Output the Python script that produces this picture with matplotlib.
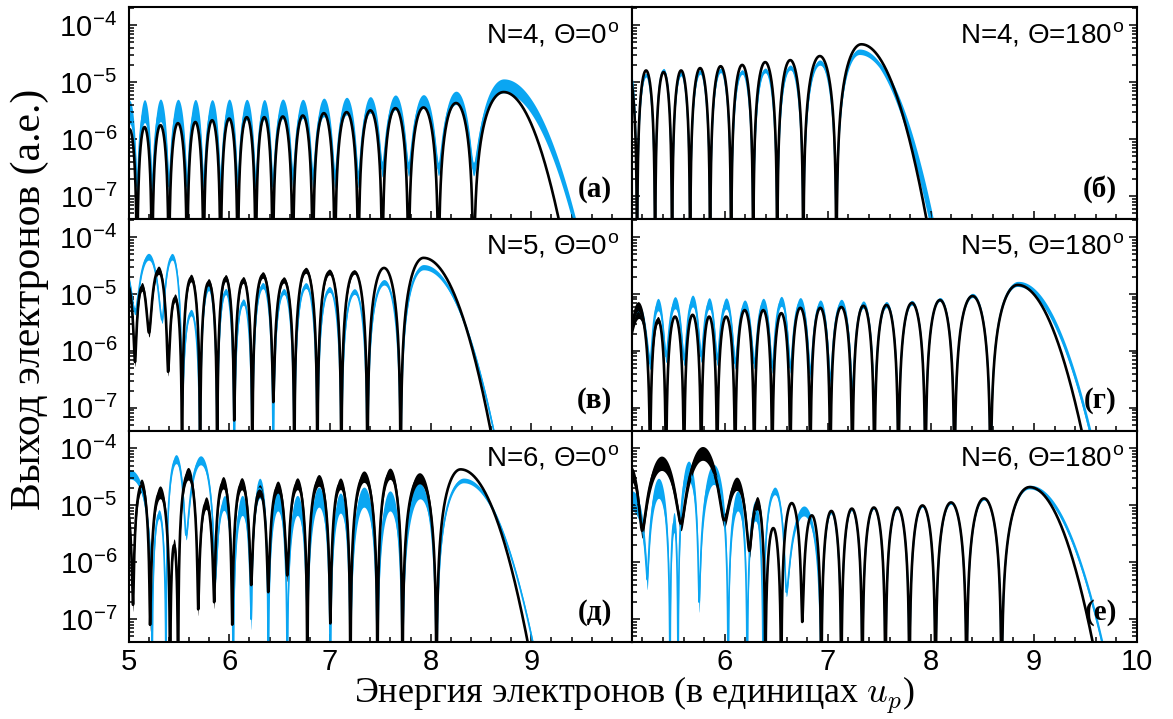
import numpy as np
import matplotlib.pyplot as plt
from matplotlib.ticker import LogLocator, MultipleLocator, NullFormatter

plt.rcParams['font.family'] = ['Liberation Sans', 'DejaVu Sans']
plt.rcParams['mathtext.fontset'] = 'cm'

BLUE = '#0aa6f2'
BLACK = 'black'
YMIN, YMAX = 4.0e-8, 2.07e-4

# ---- (а) N=4, Theta=0 ----
a_nodes = [4.934, 5.084, 5.233, 5.400, 5.581, 5.745, 5.914, 6.084, 6.263, 6.432,
           6.631, 6.830, 7.049, 7.282, 7.520, 7.780, 8.078, 8.426]
a_black_peaks = [1.5e-6, 1.63e-6, 1.76e-6, 1.91e-6, 2.0e-6, 2.15e-6, 2.3e-6, 2.43e-6, 2.43e-6,
                 2.5e-6, 2.6e-6, 2.86e-6, 2.98e-6, 3.2e-6, 3.5e-6, 3.6e-6, 4.3e-6, 6.7e-6]
a_black_depths = [0] * 18
a_blue_peaks = [3.0e-6, 3.1e-6, 3.2e-6, 3.2e-6, 3.2e-6, 3.2e-6, 3.3e-6, 3.3e-6, 3.3e-6,
                3.4e-6, 3.4e-6, 3.6e-6, 3.8e-6, 4.0e-6, 4.4e-6, 4.6e-6, 5.3e-6, 8.6e-6]
a_blue_depths = [1.5e-7] * 10 + [2e-7] * 4 + [3e-7] * 4
a_black_end = (8.725, 9.272)
a_blue_end = (8.725, 9.422)
a_black_spread = ([5.0, 10.0], [1.0, 1.0])
a_blue_spread = ([5.0, 7.0, 8.0, 9.5], [1.6, 1.45, 1.3, 1.35])

# ---- (б) N=4, Theta=180 ----
b_nodes = [4.98, 5.149, 5.324, 5.489, 5.664, 5.858, 6.062, 6.276, 6.509, 6.762, 7.083]
b_black_peaks = [1.4e-5, 1.6e-5, 1.5e-5, 1.6e-5, 1.76e-5, 1.9e-5, 2.0e-5, 2.24e-5, 2.43e-5,
                 2.86e-5, 4.6e-5]
b_black_depths = [0] * 11
b_blue_peaks = [1.9e-5, 1.33e-5, 1.6e-5, 1.4e-5, 1.5e-5, 1.6e-5, 1.5e-5, 1.6e-5, 1.8e-5,
                2.2e-5, 3.4e-5]
b_blue_depths = [0] * 11
b_black_end = (7.325, 7.957)
b_blue_end = (7.306, 8.0)
b_black_spread = ([5.0, 10.0], [1.0, 1.0])
b_blue_spread = ([5.0, 7.5, 8.0], [1.08, 1.12, 1.6])

# ---- (в) N=5, Theta=0 ----
c_black_nodes = [4.92, 5.064, 5.203, 5.392, 5.531, 5.710, 5.880, 6.049, 6.229, 6.437,
                 6.646, 6.875, 7.113, 7.372, 7.702]
c_black_peaks = [1.4e-5, 1.33e-5, 2.6e-5, 8.5e-6, 1.9e-5, 1.6e-5, 1.9e-5, 1.76e-5, 2.15e-5,
                 1.76e-5, 2.6e-5, 2.43e-5, 2.43e-5, 2.86e-5, 4.3e-5]
c_black_depths = [0, 6.4e-7, 2.1e-6, 4.3e-7, 0, 0, 0, 6e-8, 0, 1.26e-7, 0, 0, 0, 0, 0]
c_blue_nodes = [4.9, 5.064, 5.332, 5.531, 5.710, 5.880, 6.049, 6.229, 6.437, 6.646,
                6.875, 7.113, 7.372, 7.702]
c_blue_peaks = [2e-5, 4.5e-5, 4.5e-5, 4.7e-6, 1.3e-5, 1.1e-5, 7.2e-6, 1.4e-5, 1.1e-5,
                1.4e-5, 1.2e-5, 1.1e-5, 1.6e-5, 2.95e-5]
c_blue_depths = [0, 5e-6, 3.5e-6, 1e-7, 0, 0, 0, 0, 0, 0, 0, 0, 0, 0]
c_black_end = (7.929, 8.596)
c_blue_end = (7.929, 8.626)
c_black_spread = ([5.0, 6.0, 7.2, 7.4, 10.0], [1.2, 1.15, 1.12, 1.0, 1.0])
c_blue_spread = ([5.0, 7.4, 10.0], [1.15, 1.12, 1.08])

# ---- (г) N=5, Theta=180 ----
d_nodes = [5.05, 5.275, 5.430, 5.605, 5.771, 5.926, 6.101, 6.286, 6.461, 6.636, 6.830,
           7.024, 7.238, 7.452, 7.685, 7.947, 8.229, 8.579]
d_black_peaks = [5.2e-6, 3.5e-6, 4.0e-6, 4.3e-6, 4.0e-6, 4.0e-6, 5.2e-6, 5.2e-6, 4.6e-6,
                 5.7e-6, 5.7e-6, 5.9e-6, 6.2e-6, 6.4e-6, 6.95e-6, 7.8e-6, 9.2e-6, 1.44e-5]
d_black_depths = [1.2e-6] + [0] * 17
d_blue_peaks = [5e-6, 6.5e-6, 7e-6, 7.5e-6, 6.8e-6, 6.8e-6, 6.3e-6, 6.8e-6, 7.4e-6,
                7.1e-6, 6.5e-6, 6.8e-6, 6.5e-6, 6.5e-6, 7.0e-6, 8e-6, 9.4e-6, 1.5e-5]
d_blue_depths = [1.5e-6, 6e-7, 8e-7, 7e-7, 8e-7, 7e-7, 6e-7, 6e-7, 5e-7, 5e-7, 4e-7,
                 3e-7, 2e-7, 1e-7, 0, 0, 0, 0]
d_black_end = (8.842, 9.463)
d_blue_end = (8.842, 9.541)
d_black_spread = ([5.1, 5.3, 5.5, 10.0], [1.5, 1.2, 1.0, 1.0])
d_blue_spread = ([5.1, 7.0, 8.0, 8.8, 9.6], [1.3, 1.2, 1.08, 1.1, 1.25])

# ---- (д) N=6, Theta=0 ----
e_black_nodes = [4.88, 5.044, 5.213, 5.412, 5.492, 5.691, 5.850, 6.029, 6.218, 6.387,
                 6.576, 6.775, 7.004, 7.203, 7.472, 7.720, 8.058]
e_black_peaks = [1.3e-5, 2.24e-5, 1.7e-5, 2e-6, 3.6e-5, 1.1e-5, 2.5e-5, 2.4e-5, 1.8e-5,
                 2.1e-5, 2.4e-5, 2.75e-5, 2.4e-5, 3.2e-5, 3.6e-5, 3e-5, 4.3e-5]
e_black_depths = [0, 1.8e-7, 8e-8, 0, 0, 1.5e-7, 2e-7, 8e-8, 4e-7, 3e-7, 5.9e-7, 0,
                  8.5e-8, 0, 0, 0, 0]
e_blue_nodes = [4.8, 5.233, 5.372, 5.571, 5.860, 6.039, 6.218, 6.387, 6.576, 6.775,
                7.004, 7.203, 7.472, 7.720, 8.058]
e_blue_peaks = [3.5e-5, 7e-6, 6.5e-5, 6.2e-5, 1.1e-5, 1e-5, 2e-5, 1.2e-5, 1e-5, 1.4e-5,
                1.1e-5, 1.4e-5, 1.2e-5, 1.8e-5, 2.75e-5]
e_blue_depths = [2e-5, 0, 0, 3e-6, 5e-7, 0, 1e-7, 0, 0, 1e-7, 0, 0, 0, 0, 0]
e_black_end = (8.297, 8.964)
e_blue_end = (8.327, 9.014)
e_black_spread = ([5.0, 8.0, 8.06, 10.0], [1.3, 1.25, 1.0, 1.0])
e_blue_spread = ([5.0, 5.9, 6.0, 7.8, 8.1, 10.0], [1.2, 1.2, 1.5, 1.5, 1.1, 1.1])

# ---- (е) N=6, Theta=180 ----
f_black_nodes = [4.98, 5.197, 5.576, 5.994, 6.237, 6.393, 6.548, 6.752, 6.937, 7.131,
                 7.335, 7.559, 7.792, 8.045, 8.346, 8.686]
f_black_peaks = [3.6e-5, 5.5e-5, 8.2e-5, 2.4e-5, 1.1e-5, 4e-6, 1.1e-5, 6.7e-6, 8e-6,
                 8.8e-6, 9.2e-6, 9.2e-6, 1e-5, 1.13e-5, 1.33e-5, 2.1e-5]
f_black_depths = [1e-5, 3.6e-6, 4.8e-6, 5.5e-6, 1.6e-6, 0, 0, 9e-8, 0, 0, 0, 0, 0, 0, 0, 0]
f_blue_nodes = [4.95, 5.246, 5.469, 5.547, 5.751, 6.033, 6.218, 6.373, 6.597, 6.937,
                7.131, 7.335, 7.559, 7.792, 8.045, 8.346, 8.686]
f_blue_peaks = [1.2e-5, 2e-5, 5e-6, 4e-5, 3.5e-5, 1.2e-5, 8e-6, 1.8e-5, 8e-6, 7.5e-6,
                8.5e-6, 9e-6, 9e-6, 9.8e-6, 1.1e-5, 1.3e-5, 2.1e-5]
f_blue_depths = [1e-5, 5e-7, 0, 0, 2e-7, 0, 0, 0, 3e-7, 0, 0, 0, 0, 0, 0, 0, 0]
f_black_end = (8.958, 9.57)
f_blue_end = (8.958, 9.66)
f_black_spread = ([5.1, 6.35, 6.45, 10.0], [1.35, 1.3, 1.0, 1.0])
f_blue_spread = ([5.1, 6.3, 6.4, 6.9, 7.0, 8.8, 9.7], [1.5, 1.5, 1.15, 1.25, 1.05, 1.05, 1.2])

titles = ['N=4, Θ=0', 'N=4, Θ=180', 'N=5, Θ=0', 'N=5, Θ=180', 'N=6, Θ=0', 'N=6, Θ=180']
letters = ['(а)', '(б)', '(в)', '(г)', '(д)', '(е)']

energy = np.linspace(4.75, 10.25, 12001)


def spectrum(nodes, peaks, depths, end):
    # arches between zeros, last arch falls off towards the cutoff
    top, tail = end
    y = np.full_like(energy, 1e-12)
    for i in range(len(nodes) - 1):
        a, b = nodes[i], nodes[i + 1]
        m = (energy >= a) & (energy < b)
        t = (energy[m] - a) / (b - a)
        base = depths[i] * (1 - t) + depths[i + 1] * t
        y[m] = base + (peaks[i] - base) * np.sin(np.pi * t) ** 2
    a = nodes[-1]
    m = (energy >= a) & (energy < top)
    t = (energy[m] - a) / (top - a)
    y[m] = depths[-1] + (peaks[-1] - depths[-1]) * np.sin(0.5 * np.pi * t) ** 2
    m = energy >= top
    s = (energy[m] - top) / (tail - top)
    y[m] = peaks[-1] * (YMIN / peaks[-1]) ** (s ** 2)
    return np.maximum(y, 1e-12)


def draw(ax, y, spread, color, lw):
    f = np.interp(energy, spread[0], spread[1])
    ax.fill_between(energy, y / f, y * f, color=color, lw=0)
    ax.plot(energy, y, color=color, lw=lw)


panels = [
    (a_nodes, a_black_peaks, a_black_depths, a_black_end, a_black_spread,
     a_nodes, a_blue_peaks, a_blue_depths, a_blue_end, a_blue_spread),
    (b_nodes, b_black_peaks, b_black_depths, b_black_end, b_black_spread,
     b_nodes, b_blue_peaks, b_blue_depths, b_blue_end, b_blue_spread),
    (c_black_nodes, c_black_peaks, c_black_depths, c_black_end, c_black_spread,
     c_blue_nodes, c_blue_peaks, c_blue_depths, c_blue_end, c_blue_spread),
    (d_nodes, d_black_peaks, d_black_depths, d_black_end, d_black_spread,
     d_nodes, d_blue_peaks, d_blue_depths, d_blue_end, d_blue_spread),
    (e_black_nodes, e_black_peaks, e_black_depths, e_black_end, e_black_spread,
     e_blue_nodes, e_blue_peaks, e_blue_depths, e_blue_end, e_blue_spread),
    (f_black_nodes, f_black_peaks, f_black_depths, f_black_end, f_black_spread,
     f_blue_nodes, f_blue_peaks, f_blue_depths, f_blue_end, f_blue_spread),
]

fig = plt.figure(figsize=(11.73, 7.19), dpi=100)
W, H = 1173.0, 719.0
col_x = [(128.6, 632.0), (632.0, 1137.0)]
row_y = [(7.0, 219.0), (219.0, 430.5), (430.5, 642.0)]

for k, p in enumerate(panels):
    row, col = divmod(k, 2)
    x0, x1 = col_x[col]
    y0, y1 = row_y[row]
    ax = fig.add_axes([x0 / W, 1 - y1 / H, (x1 - x0) / W, (y1 - y0) / H])

    draw(ax, spectrum(p[5], p[6], p[7], p[8]), p[9], BLUE, 1.2)
    draw(ax, spectrum(p[0], p[1], p[2], p[3]), p[4], BLACK, 1.9)

    ax.set_yscale('log')
    ax.set_ylim(YMIN, YMAX)
    ax.set_xlim((5.0, 10.0) if col == 0 else (5.1, 10.0))
    for s in ax.spines.values():
        s.set_linewidth(1.5)

    ax.yaxis.set_major_locator(LogLocator(base=10, numticks=10))
    ax.yaxis.set_minor_locator(LogLocator(base=10, subs=np.arange(2, 10), numticks=20))
    ax.yaxis.set_minor_formatter(NullFormatter())
    ax.xaxis.set_minor_locator(MultipleLocator(0.2))
    ax.set_xticks([5, 6, 7, 8, 9] if col == 0 else [6, 7, 8, 9, 10])
    ax.tick_params(which='both', direction='in', width=1.1, labelsize=21,
                   left=True, right=(col == 1), top=False, bottom=True)
    ax.tick_params(which='major', length=6, pad=8)
    ax.tick_params(axis='x', which='major', pad=4)
    ax.tick_params(which='minor', length=3.5)

    if col == 0:
        ax.set_yticks([1e-7, 1e-6, 1e-5, 1e-4])
        ax.set_yticklabels([r'10$^{\mathregular{-%d}}$' % n for n in (7, 6, 5, 4)])
    else:
        ax.tick_params(axis='y', labelleft=False)
    if row < 2:
        ax.tick_params(axis='x', labelbottom=False)

    ax.text(0.976, 0.83, titles[k] + r'$^{\mathregular{o}}$', transform=ax.transAxes,
            ha='right', va='baseline', fontsize=20)
    ax.text(0.96, 0.14, letters[k], transform=ax.transAxes, ha='right', va='center',
            fontsize=21, weight='bold', family=['Liberation Serif', 'DejaVu Serif'])

fig.text(0.0256, 0.583, 'Выход электронов (а.е.)', rotation=90, ha='center', va='center',
         fontsize=30, family=['Liberation Serif', 'DejaVu Serif'])
fig.text(0.541, 0.004, r'Энергия электронов (в единицах $u_p$)', ha='center', va='bottom',
         fontsize=26, family=['Liberation Serif', 'DejaVu Serif'])

fig.savefig('out.png', dpi=100)
